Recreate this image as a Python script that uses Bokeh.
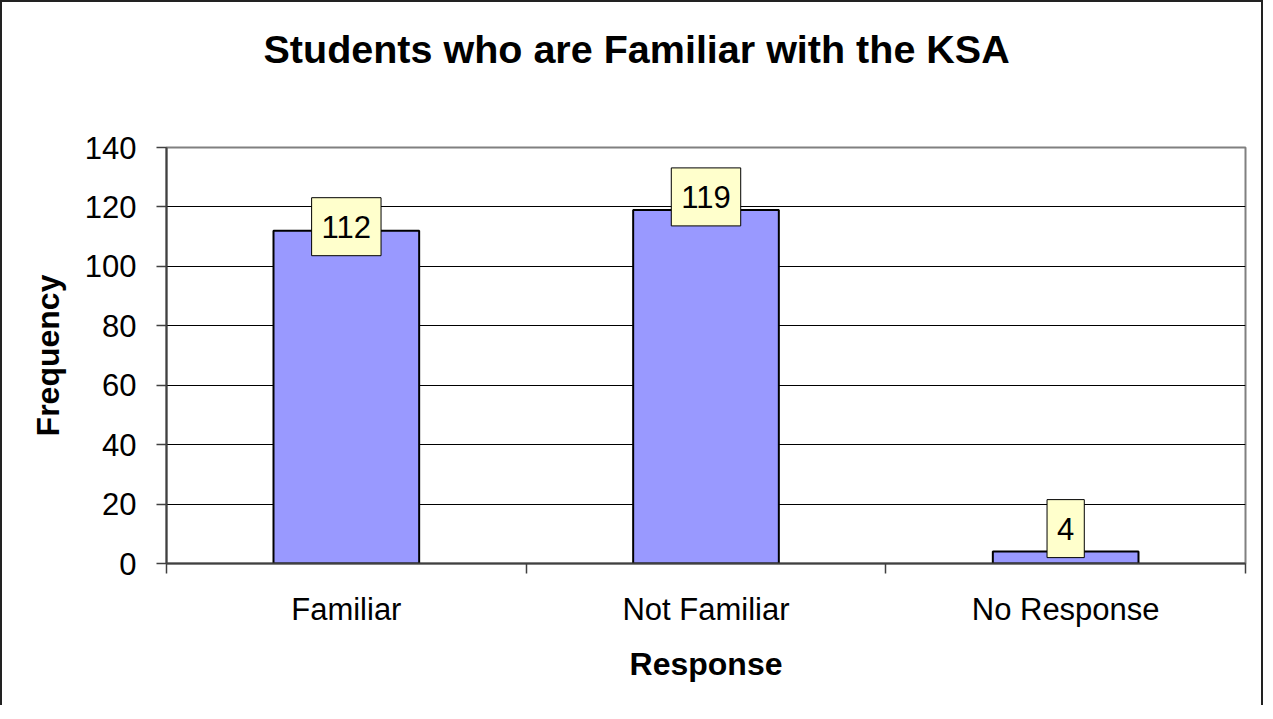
from bokeh.plotting import figure
from bokeh.models import FixedTicker, Label, Range1d, ColumnDataSource, Title
from bokeh.embed import file_html
from bokeh.resources import INLINE

categories = ["Familiar", "Not Familiar", "No Response"]
frequency = [112, 119, 4]
y_ticks = [0, 20, 40, 60, 80, 100, 120, 140]
chart_title = "Students who are Familiar with the KSA"

# pixel nudges of the data-label boxes (style only)
label_nudge = [4, 13, 23]

FONT = "Liberation Sans"
W, H = 1263, 705

n = len(categories)
centers = [i + 0.5 for i in range(n)]
bounds = list(range(n + 1))

p = figure(width=W, height=H, output_backend="svg", toolbar_location=None,
           x_range=Range1d(0, n), y_range=Range1d(0, y_ticks[-1]),
           min_border_left=164, min_border_right=20,
           min_border_top=145, min_border_bottom=144)
p.styles = {"border": "2px solid #222", "border-bottom": "none"}

# spacer between frame and title, then the title itself
p.add_layout(Title(text=" ", text_font_size="1px", standoff=74), "above")
p.add_layout(Title(text=chart_title, text_font=FONT, text_font_size="39.5px",
                   text_font_style="bold", text_color="black",
                   align="left", offset=97, standoff=0), "above")

# frame
p.outline_line_color = "#808080"
p.outline_line_width = 2
p.background_fill_color = "white"
p.border_fill_color = "white"

# grids
p.xgrid.grid_line_color = None
p.ygrid.ticker = FixedTicker(ticks=y_ticks)
p.ygrid.grid_line_color = "black"
p.ygrid.grid_line_width = 1

# y axis
ya = p.yaxis[0]
ya.ticker = FixedTicker(ticks=y_ticks)
ya.axis_label = "Frequency"
ya.axis_label_text_font = FONT
ya.axis_label_text_font_size = "32px"
ya.axis_label_text_font_style = "bold"
ya.axis_label_text_color = "black"
ya.axis_label_standoff = 16
ya.major_label_text_font = FONT
ya.major_label_text_font_size = "31px"
ya.major_label_text_color = "black"
ya.major_label_standoff = 20
ya.major_tick_out = 10
ya.major_tick_in = 0
ya.minor_tick_line_color = None
ya.axis_line_color = "#404040"
ya.axis_line_width = 2
ya.major_tick_line_color = "#404040"
ya.major_tick_line_width = 1.5

# x axis: labels at category centres, tick marks at category boundaries
xa = p.xaxis[0]
xa.ticker = FixedTicker(ticks=centers, minor_ticks=bounds)
xa.major_label_overrides = {c: name for c, name in zip(centers, categories)}
xa.axis_label = "Response"
xa.axis_label_text_font = FONT
xa.axis_label_text_font_size = "32px"
xa.axis_label_text_font_style = "bold"
xa.axis_label_text_color = "black"
xa.axis_label_standoff = 16
xa.major_label_text_font = FONT
xa.major_label_text_font_size = "31px"
xa.major_label_text_color = "black"
xa.major_label_standoff = 18
xa.major_tick_line_color = None
xa.major_tick_out = 0
xa.major_tick_in = 0
xa.minor_tick_out = 10
xa.minor_tick_in = 0
xa.minor_tick_line_color = "#404040"
xa.minor_tick_line_width = 1.5
xa.axis_line_color = "#404040"
xa.axis_line_width = 2

# bars
src = ColumnDataSource(dict(x=centers, top=frequency, cat=categories))
p.vbar(x="x", top="top", width=0.405, source=src,
       fill_color="#9999FF", line_color="black", line_width=2)

# data labels
for c, v, dy in zip(centers, frequency, label_nudge):
    p.add_layout(Label(x=c, y=v, text=str(v), text_align="center",
                       text_baseline="middle", text_font=FONT,
                       text_font_size="31px", text_color="black",
                       padding=(10, 18), y_offset=dy,
                       background_fill_color="#FFFFCC",
                       border_line_color="black", border_line_width=1))

open("out.html", "w").write(file_html(p, INLINE))
